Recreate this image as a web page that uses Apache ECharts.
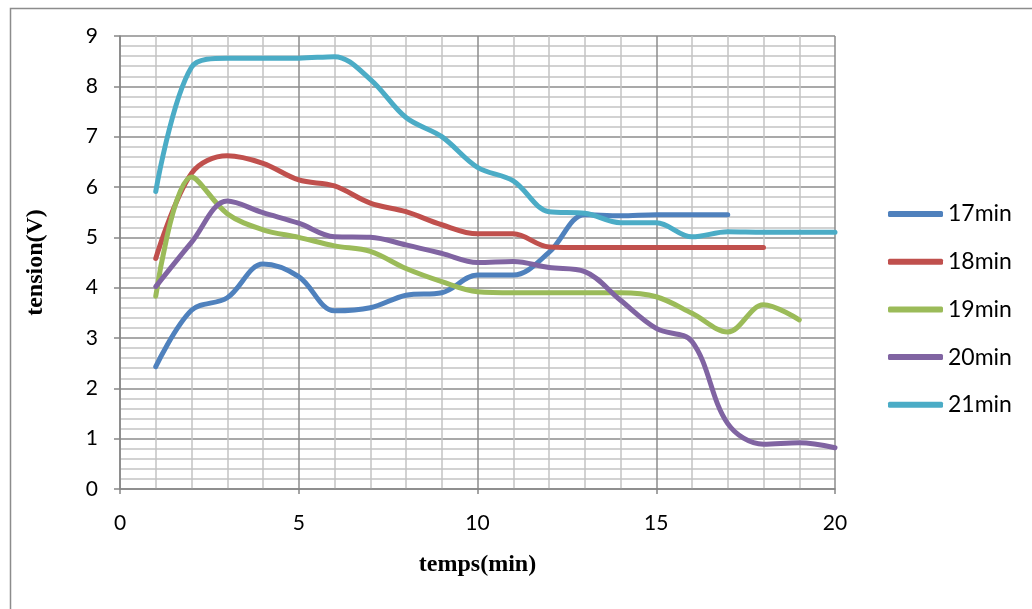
<!DOCTYPE html>
<html>
<head>
<meta charset="utf-8">
<script src="https://cdn.jsdelivr.net/npm/echarts@6/dist/echarts.min.js"></script>
<style>
html,body{margin:0;padding:0;background:#fff;}
#c{width:1032px;height:609px;}
</style>
</head>
<body>
<div id="c"></div>
<script>
var times = [1,2,3,4,5,6,7,8,9,10,11,12,13,14,15,16,17,18,19,20];
var seriesNames = ['17min','18min','19min','20min','21min'];
var s17 = [2.43,3.55,3.8,4.47,4.22,3.54,3.6,3.85,3.9,4.25,4.25,4.7,5.45,5.43,5.45,5.45,5.45];
var s18 = [4.58,6.27,6.62,6.47,6.14,6.02,5.68,5.51,5.25,5.07,5.07,4.81,4.8,4.8,4.8,4.8,4.8,4.8];
var s19 = [3.83,6.2,5.47,5.15,5.0,4.83,4.72,4.38,4.12,3.92,3.9,3.9,3.9,3.9,3.82,3.49,3.12,3.66,3.36];
var s20 = [4.02,4.9,5.72,5.49,5.28,5.01,5.0,4.85,4.68,4.5,4.52,4.4,4.32,3.75,3.19,2.93,1.3,0.89,0.92,0.82];
var s21 = [5.91,8.38,8.56,8.56,8.56,8.59,8.14,7.38,7.0,6.39,6.12,5.51,5.48,5.29,5.29,5.01,5.11,5.1,5.1,5.1];
var colors = ['#4F81BD','#C0504D','#9BBB59','#8064A2','#4BACC6'];
var allSeries = [s17,s18,s19,s20,s21];

function pairs(arr){ return arr.map(function(v,i){ return [times[i], v]; }); }

var chart = echarts.init(document.getElementById('c'));
var font = 'Lato, "Open Sans", sans-serif';
chart.setOption({
  animation:false,
  backgroundColor:'#fff',
  graphic:[{type:'rect',left:8,top:6,shape:{x:0,y:0,width:1100,height:700},style:{fill:'none',stroke:'#8c8c8c',lineWidth:1.5},silent:true,z:-10}],
  grid:{left:120,right:197,top:36,bottom:120,containLabel:false},
  legend:{
    orient:'vertical', left:888, top:201, padding:0,
    icon:'roundRect', itemWidth:55, itemHeight:6, itemGap:21.7,
    textStyle:{fontFamily:font,fontSize:23,color:'#000',lineHeight:26},
    data:seriesNames
  },
  xAxis:{
    type:'value', min:0, max:20, interval:5,
    name:'temps(min)', nameLocation:'middle', nameGap:64,
    nameTextStyle:{fontFamily:'"Liberation Serif", serif',fontWeight:'bold',fontSize:24,color:'#000'},
    axisLine:{show:true,onZero:false,lineStyle:{color:'#868686',width:1.5}},
    axisTick:{show:true,inside:false,length:5,lineStyle:{color:'#868686',width:1.5}},
    axisLabel:{fontFamily:font,fontSize:21,color:'#000',margin:24},
    splitLine:{show:true,lineStyle:{color:'#8c8c8c',width:1.5}},
    minorTick:{show:false,splitNumber:5},
    minorSplitLine:{show:true,lineStyle:{color:'#c3c3c3',width:1.5}}
  },
  yAxis:{
    type:'value', min:0, max:9, interval:1,
    name:'tension(V)', nameLocation:'middle', nameGap:72, nameRotate:90,
    nameTextStyle:{fontFamily:'"Liberation Serif", serif',fontWeight:'bold',fontSize:24,color:'#000'},
    axisLine:{show:true,lineStyle:{color:'#868686',width:1.5}},
    axisTick:{show:true,inside:false,length:6,lineStyle:{color:'#868686',width:1.5}},
    axisLabel:{fontFamily:font,fontSize:21,color:'#000',margin:22},
    splitLine:{show:true,lineStyle:{color:'#8c8c8c',width:1.5}},
    minorTick:{show:false,splitNumber:5},
    minorSplitLine:{show:true,lineStyle:{color:'#c3c3c3',width:1.5}}
  },
  series: allSeries.map(function(arr,i){
    return {
      name:seriesNames[i], type:'line', data:pairs(arr),
      smooth:0.35, showSymbol:false, symbol:'none',
      color:colors[i],
      lineStyle:{color:colors[i],width:5,cap:'round',join:'round'},
      z:2+i
    };
  })
});
</script>
</body>
</html>
